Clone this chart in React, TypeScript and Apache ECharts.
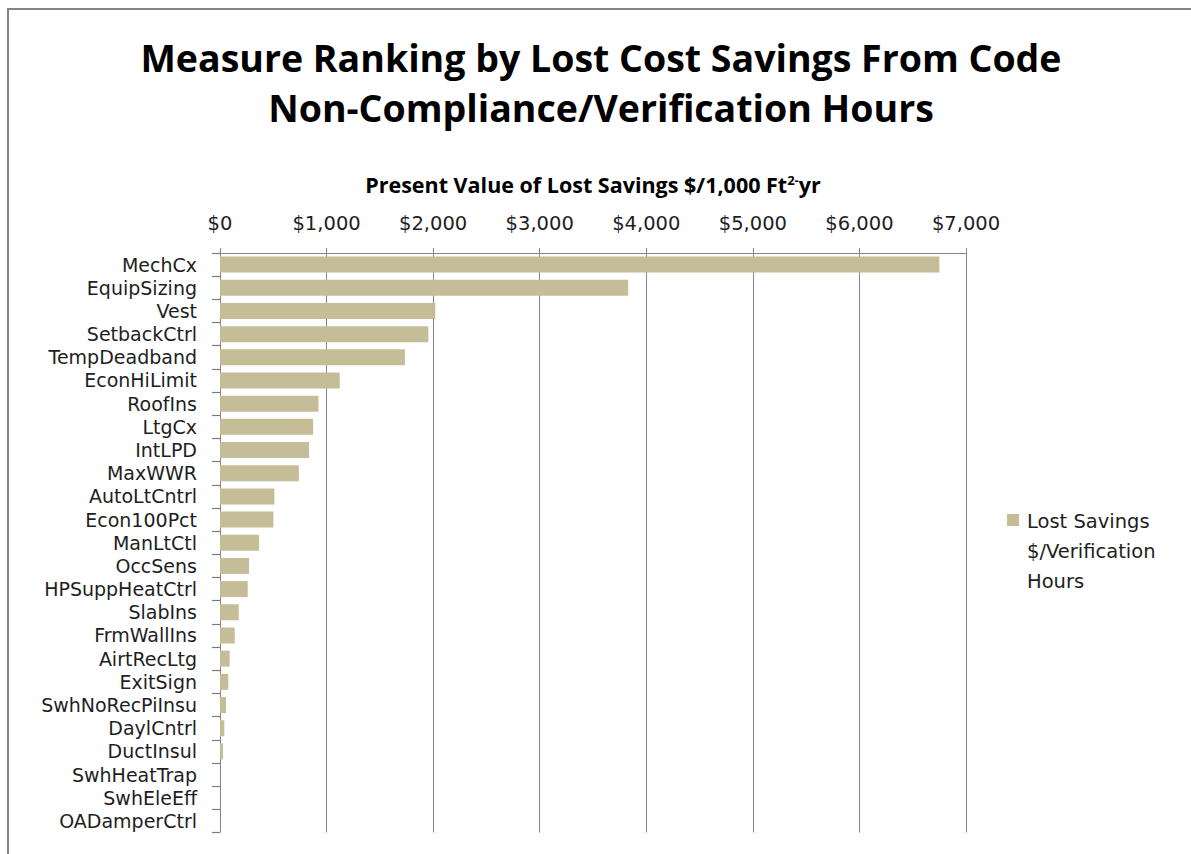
import React, { useEffect, useRef } from "react";
import * as echarts from "echarts";

const categories = [
  "MechCx", "EquipSizing", "Vest", "SetbackCtrl", "TempDeadband", "EconHiLimit",
  "RoofIns", "LtgCx", "IntLPD", "MaxWWR", "AutoLtCntrl", "Econ100Pct", "ManLtCtl",
  "OccSens", "HPSuppHeatCtrl", "SlabIns", "FrmWallIns", "AirtRecLtg", "ExitSign",
  "SwhNoRecPiInsu", "DaylCntrl", "DuctInsul", "SwhHeatTrap", "SwhEleEff", "OADamperCtrl",
];
const lostSavings = [
  6750, 3830, 2020, 1955, 1735, 1124, 924, 874, 836, 740, 510, 501, 367,
  273, 260, 176, 138, 91, 78, 56, 40, 28, 0, 0, 0,
];
const xTicks = [0, 1000, 2000, 3000, 4000, 5000, 6000, 7000];
const seriesName = "Lost Savings $/Verification Hours";
const legendLines = ["Lost Savings", "$/Verification", "Hours"];
const titleLines = ["Measure Ranking by Lost Cost Savings From Code", "Non-Compliance/Verification Hours"];

const BAR = "#C4BD97";
const GRID = "#868686";
const TXT = "#1e1e1e";
const FONT = "DejaVu Sans";
const TFONT = "Open Sans";

export default function App() {
  const ref = useRef<HTMLDivElement>(null);
  useEffect(() => {
    if (!ref.current) return;
    const chart = echarts.init(ref.current, null, { renderer: "svg" });
    chart.setOption({
      animation: false,
      backgroundColor: "#ffffff",
      grid: { left: 220, right: 225, top: 253, bottom: 21.5, containLabel: false },
      xAxis: {
        type: "value",
        position: "top",
        min: xTicks[0],
        max: xTicks[xTicks.length - 1],
        interval: 1000,
        name: "Present Value of Lost Savings $/1,000 Ft{sup|2-}yr",
        nameLocation: "middle",
        nameGap: 58,
        nameTextStyle: {
          fontFamily: TFONT, fontSize: 21.5, fontWeight: "bold", color: "#000",
          rich: { sup: { fontFamily: TFONT, fontSize: 13, fontWeight: "bold", color: "#000", verticalAlign: "top", lineHeight: 22 } },
        },
        axisLine: { show: true, lineStyle: { color: GRID, width: 1 } },
        axisTick: { show: true, length: 5, lineStyle: { color: GRID } },
        splitLine: { show: true, lineStyle: { color: GRID, width: 1 } },
        axisLabel: {
          fontFamily: FONT, fontSize: 19.5, color: TXT, margin: 20,
          formatter: (v: number) => "$" + v.toLocaleString("en-US"),
        },
      },
      yAxis: {
        type: "category",
        inverse: true,
        data: categories,
        axisLine: { show: true, lineStyle: { color: "rgba(0,0,0,0)" } },
        axisTick: { show: true, interval: 0, length: 8, lineStyle: { color: "#7a7a7a", width: 1.2 } },
        axisLabel: { interval: 0, fontFamily: FONT, fontSize: 19, lineHeight: 22, color: TXT, margin: 23 },
        splitLine: { show: false },
      },
      series: [
        {
          name: seriesName,
          type: "bar",
          data: lostSavings,
          barWidth: 16,
          itemStyle: { color: BAR },
        },
      ],
      graphic: [
        {
          type: "rect",
          shape: { x: 8, y: 9, width: 1300, height: 1000 },
          style: { fill: "none", stroke: "#858585", lineWidth: 2 },
          silent: true,
        },
        {
          type: "text",
          x: 601,
          y: 57,
          style: {
            text: titleLines[0], fontFamily: TFONT, fontSize: 37.5, fontWeight: "bold",
            fill: "#000", textAlign: "center", textVerticalAlign: "middle",
          },
        },
        {
          type: "text",
          x: 601,
          y: 107,
          style: {
            text: titleLines[1], fontFamily: TFONT, fontSize: 37.5, fontWeight: "bold",
            fill: "#000", textAlign: "center", textVerticalAlign: "middle",
          },
        },
        {
          type: "rect",
          shape: { x: 1007, y: 514, width: 12, height: 12 },
          style: { fill: BAR },
        },
        {
          type: "text",
          x: 1027,
          y: 506,
          style: {
            text: legendLines.join("\n"), fontFamily: FONT, fontSize: 19.5, lineHeight: 30,
            fill: TXT, textAlign: "left", textVerticalAlign: "top",
          },
        },
      ],
    });
    return () => chart.dispose();
  }, []);
  return (
    <div
      ref={ref}
      style={{ position: "fixed", left: 0, top: 0, width: 1191, height: 854, background: "#fff" }}
    />
  );
}
